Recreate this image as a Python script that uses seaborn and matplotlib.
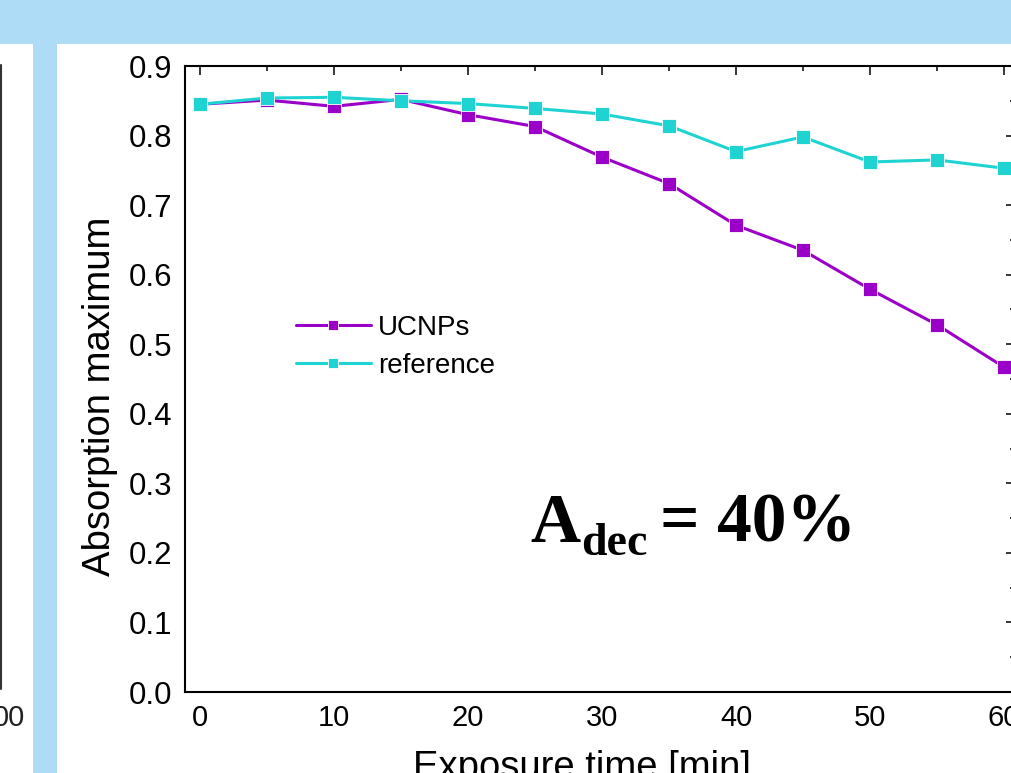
import matplotlib
matplotlib.use("Agg")
import matplotlib.pyplot as plt
from matplotlib.patches import Rectangle
from matplotlib.lines import Line2D
from matplotlib.ticker import MultipleLocator
import seaborn as sns
import pandas as pd

# ---- data ----
time_min = [0, 5, 10, 15, 20, 25, 30, 35, 40, 45, 50, 55, 60]
ucnps = [0.845, 0.851, 0.842, 0.852, 0.830, 0.813, 0.769, 0.731, 0.671, 0.635, 0.579, 0.528, 0.467]
reference = [0.845, 0.854, 0.855, 0.850, 0.846, 0.839, 0.831, 0.814, 0.777, 0.798, 0.762, 0.765, 0.753]
series_names = ["UCNPs", "reference"]
x_ticks = [0, 10, 20, 30, 40, 50, 60]
y_ticks = [0.0, 0.1, 0.2, 0.3, 0.4, 0.5, 0.6, 0.7, 0.8, 0.9]

colors = {"UCNPs": "#9A00C8", "reference": "#1FD3D3"}

sns.set_theme(style="white")
plt.rcParams["font.family"] = ["Liberation Sans", "DejaVu Sans"]
for k in ["text.color", "axes.labelcolor", "xtick.color", "ytick.color", "xtick.labelcolor", "ytick.labelcolor"]:
    plt.rcParams[k] = "black"

W, H = 1012, 773
fig = plt.figure(figsize=(W / 100, H / 100), dpi=100, facecolor="white")


def fx(px):
    return px / W


def fy(py):
    return 1 - py / H


# poster background pieces
blue = "#AEDBF6"
fig.patches.append(Rectangle((0, fy(44)), 1, 1 - fy(44), transform=fig.transFigure,
                             facecolor=blue, edgecolor="none", zorder=0))
fig.patches.append(Rectangle((fx(33), 0), fx(57) - fx(33), fy(44), transform=fig.transFigure,
                             facecolor=blue, edgecolor="none", zorder=0))
fig.lines.append(Line2D([fx(1), fx(1)], [fy(65), fy(689)], transform=fig.transFigure,
                        color="#333333", linewidth=1.5))
fig.text(fx(25), fy(718), "00", ha="right", va="center", fontsize=21, color="#222222")

ax = fig.add_axes([fx(185), fy(692), fx(1015) - fx(185), fy(66) - fy(692)])
ax.set_facecolor("white")

df = pd.DataFrame({
    "time": time_min * 2,
    "value": ucnps + reference,
    "series": [series_names[0]] * len(time_min) + [series_names[1]] * len(time_min),
})

for name in series_names:
    sub = df[df["series"] == name]
    sns.lineplot(data=sub, x="time", y="value", ax=ax, color=colors[name], marker="s",
                 markersize=10, markeredgecolor="white", markeredgewidth=0.6,
                 linewidth=2.2, label=name)

ax.set_xlim(-1.12, 60.82)
ax.set_ylim(0, 0.9)
ax.set_xticks(x_ticks)
ax.set_yticks(y_ticks)
ax.set_yticklabels([f"{v:.1f}" for v in y_ticks])
ax.xaxis.set_minor_locator(MultipleLocator(5))
ax.yaxis.set_minor_locator(MultipleLocator(0.05))
ax.tick_params(which="both", direction="in", top=True, right=True, color="black", width=1.1)
ax.tick_params(which="major", length=6.5, pad=9)
ax.tick_params(axis="x", which="major", labelsize=21)
ax.tick_params(axis="y", which="major", labelsize=22.5)
ax.tick_params(which="minor", length=3.8)
for s in ax.spines.values():
    s.set_color("black")
    s.set_linewidth(1.5)

ax.set_xlabel("Exposure time [min]", fontsize=27.5, labelpad=12.5)
ax.xaxis.label.set_x(0.478)
ax.set_ylabel("Absorption maximum", fontsize=27.5, labelpad=8)
ax.yaxis.label.set_y(0.473)

leg = ax.legend(loc="upper left", bbox_to_anchor=(0.1336, 0.602), frameon=False, fontsize=20,
                handlelength=2.7, handletextpad=0.25, labelspacing=0.42, markerscale=0.75,
                borderpad=0, borderaxespad=0)

# annotation A_dec = 40%
serif = ["Liberation Serif", "DejaVu Serif"]
fig.text(fx(530), fy(542), "A", family=serif, weight="bold", fontsize=50, va="baseline", ha="left")
fig.text(fx(581), fy(555), "dec", family=serif, weight="bold", fontsize=33, va="baseline", ha="left")
fig.text(fx(660), fy(542), "= 40%", family=serif, weight="bold", fontsize=50, va="baseline", ha="left")

fig.savefig("out.png", dpi=100, facecolor="white")
